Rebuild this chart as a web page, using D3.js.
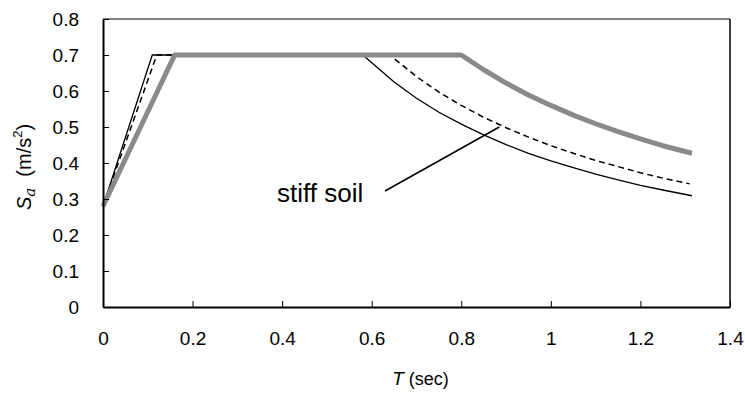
<!DOCTYPE html>
<html>
<head>
<meta charset="utf-8">
<script src="https://cdn.jsdelivr.net/npm/d3@7"></script>
<style>
  body { margin: 0; background: #fff; }
  text { font-family: "Liberation Sans", Arial, sans-serif; fill: #000; }
</style>
</head>
<body>
<div id="vis-container"></div>
<script>
// spectra: [T (sec), Sa (m/s2)]
let stiffSoil = [
  [0, 0.28], [0.11, 0.7], [0.58, 0.7], [0.65, 0.625], [0.7, 0.58], [0.75, 0.541],
  [0.8, 0.508], [0.85, 0.478], [0.9, 0.451], [0.95, 0.427], [1.0, 0.406],
  [1.05, 0.387], [1.1, 0.369], [1.15, 0.353], [1.2, 0.338], [1.25, 0.325], [1.315, 0.309]
];
let dashedSoil = [
  [0, 0.28], [0.12, 0.7], [0.64, 0.7], [0.7, 0.64], [0.75, 0.597], [0.8, 0.56],
  [0.85, 0.527], [0.9, 0.498], [0.95, 0.472], [1.0, 0.448], [1.05, 0.427],
  [1.1, 0.407], [1.15, 0.39], [1.2, 0.373], [1.25, 0.358], [1.31, 0.342]
];
let softSoil = [
  [0, 0.28], [0.16, 0.7], [0.8, 0.7], [0.85, 0.659], [0.9, 0.622], [0.95, 0.589],
  [1.0, 0.56], [1.05, 0.533], [1.1, 0.509], [1.15, 0.487], [1.2, 0.467],
  [1.25, 0.448], [1.315, 0.427]
];

let xTicks = [0, 0.2, 0.4, 0.6, 0.8, 1, 1.2, 1.4];
let yTicks = [0, 0.1, 0.2, 0.3, 0.4, 0.5, 0.6, 0.7, 0.8];

// annotation: label and the point its leader line points to
let noteText = "stiff soil";
let notePoint = [0.885, 0.5];

let width = 745;
let height = 399;
let margin = { left: 103, right: 15, top: 19, bottom: 92 };

let svg = d3.select("#vis-container")
  .append("svg")
  .attr("width", width)
  .attr("height", height);

let x = d3.scaleLinear().domain([0, 1.4]).range([margin.left, width - margin.right]);
let y = d3.scaleLinear().domain([0, 0.8]).range([height - margin.bottom, margin.top]);

let line = d3.line()
  .x(function (d) { return x(d[0]); })
  .y(function (d) { return y(d[1]); });

// frame: gray top, black right
svg.append("line")
  .attr("x1", x(0)).attr("x2", x(1.4))
  .attr("y1", y(0.8)).attr("y2", y(0.8))
  .attr("stroke", "#808080").attr("stroke-width", 2);
svg.append("line")
  .attr("x1", x(1.4)).attr("x2", x(1.4))
  .attr("y1", y(0.8)).attr("y2", y(0))
  .attr("stroke", "#000").attr("stroke-width", 1.5);

// curves
svg.append("path")
  .attr("d", line(stiffSoil))
  .attr("fill", "none")
  .attr("stroke", "#000")
  .attr("stroke-width", 1.3);

svg.append("path")
  .attr("d", line(dashedSoil))
  .attr("fill", "none")
  .attr("stroke", "#000")
  .attr("stroke-width", 1.5)
  .attr("stroke-dasharray", "6,4");

svg.append("path")
  .attr("d", line(softSoil))
  .attr("fill", "none")
  .attr("stroke", "#8a8a8a")
  .attr("stroke-width", 5)
  .attr("stroke-linejoin", "round");

// axes
let xAxis = d3.axisBottom(x)
  .tickValues(xTicks)
  .tickSizeInner(-6)
  .tickSizeOuter(0)
  .tickPadding(25)
  .tickFormat(d3.format(""));

let gx = svg.append("g")
  .attr("transform", "translate(0," + y(0) + ")")
  .call(xAxis);

let yAxis = d3.axisLeft(y)
  .tickValues(yTicks)
  .tickSizeInner(-6)
  .tickSizeOuter(0)
  .tickPadding(24)
  .tickFormat(d3.format(""));

let gy = svg.append("g")
  .attr("transform", "translate(" + x(0) + ",0)")
  .call(yAxis);

[gx, gy].forEach(function (g) {
  g.select(".domain").attr("stroke", "#000").attr("stroke-width", 2);
  g.selectAll(".tick line").attr("stroke", "#000").attr("stroke-width", 1);
  g.selectAll(".tick text")
    .style("font-family", "'Liberation Sans', Arial, sans-serif")
    .style("font-size", "19px")
    .attr("fill", "#000");
});

// axis titles
let xt = svg.append("text")
  .attr("x", (x(0) + x(1.4)) / 2 + 4)
  .attr("y", 385)
  .attr("text-anchor", "middle")
  .style("font-size", "18px");
xt.append("tspan").style("font-style", "italic").style("font-size", "19px").text("T");
xt.append("tspan").text(" (sec)");

let yt = svg.append("text")
  .attr("transform", "translate(31,167) rotate(-90)")
  .attr("text-anchor", "middle")
  .style("font-size", "20px");
yt.append("tspan").style("font-style", "italic").text("S");
yt.append("tspan").style("font-style", "italic").style("font-family", "'DejaVu Serif', serif")
  .style("font-size", "15px").attr("dy", 4).text("a");
yt.append("tspan").attr("dy", -4).text("\u00a0\u00a0(m/s");
yt.append("tspan").style("font-size", "13px").attr("dy", -9).text("2");
yt.append("tspan").attr("dy", 9).text(")");

// annotation
svg.append("text")
  .attr("x", 277)
  .attr("y", 202)
  .style("font-size", "26px")
  .text(noteText);

svg.append("line")
  .attr("x1", 385).attr("y1", 191)
  .attr("x2", x(notePoint[0])).attr("y2", y(notePoint[1]))
  .attr("stroke", "#000")
  .attr("stroke-width", 1.5);
</script>
</body>
</html>
